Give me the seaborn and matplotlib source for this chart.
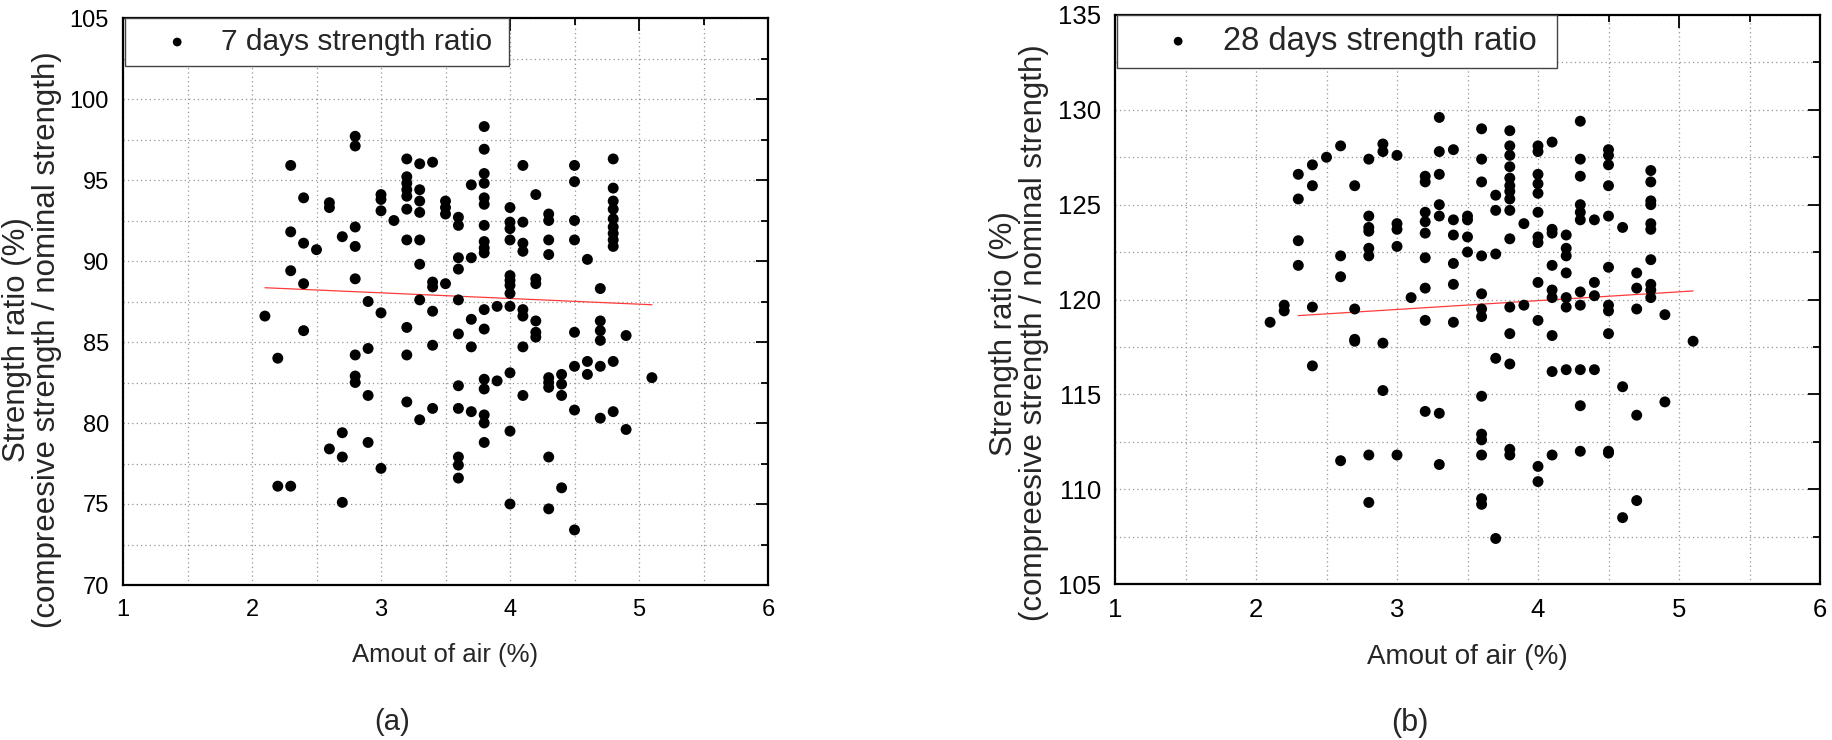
import matplotlib
matplotlib.use('Agg')
import matplotlib.pyplot as plt
from matplotlib.ticker import MultipleLocator
import seaborn as sns
import pandas as pd

# 7 days: amount of air (%) and strength ratio (%), one entry per point
air_7 = [
    2.1,
    2.2, 2.2,
    2.3, 2.3, 2.3, 2.3,
    2.4, 2.4, 2.4, 2.4,
    2.5,
    2.6, 2.6, 2.6,
    2.7, 2.7, 2.7, 2.7,
    2.8, 2.8, 2.8, 2.8, 2.8, 2.8, 2.8, 2.8,
    2.9, 2.9, 2.9, 2.9,
    3.0, 3.0, 3.0, 3.0, 3.0,
    3.1,
    3.2, 3.2, 3.2, 3.2, 3.2, 3.2, 3.2, 3.2, 3.2, 3.2,
    3.3, 3.3, 3.3, 3.3, 3.3, 3.3, 3.3, 3.3,
    3.4, 3.4, 3.4, 3.4, 3.4, 3.4,
    3.5, 3.5, 3.5, 3.5,
    3.6, 3.6, 3.6, 3.6, 3.6, 3.6, 3.6, 3.6, 3.6, 3.6, 3.6,
    3.7, 3.7, 3.7, 3.7, 3.7,
    3.8, 3.8, 3.8, 3.8, 3.8, 3.8, 3.8, 3.8, 3.8, 3.8, 3.8, 3.8, 3.8, 3.8, 3.8, 3.8, 3.8,
    3.9, 3.9,
    4.0, 4.0, 4.0, 4.0, 4.0, 4.0, 4.0, 4.0, 4.0, 4.0, 4.0, 4.0,
    4.1, 4.1, 4.1, 4.1, 4.1, 4.1, 4.1, 4.1,
    4.2, 4.2, 4.2, 4.2, 4.2, 4.2,
    4.3, 4.3, 4.3, 4.3, 4.3, 4.3, 4.3, 4.3, 4.3,
    4.4, 4.4, 4.4, 4.4,
    4.5, 4.5, 4.5, 4.5, 4.5, 4.5, 4.5, 4.5,
    4.6, 4.6, 4.6,
    4.7, 4.7, 4.7, 4.7, 4.7, 4.7,
    4.8, 4.8, 4.8, 4.8, 4.8, 4.8, 4.8, 4.8, 4.8, 4.8, 4.8,
    4.9, 4.9,
    5.1,
]
ratio_7 = [
    86.6,
    84.0, 76.1,
    95.9, 91.8, 89.4, 76.1,
    93.9, 91.1, 88.6, 85.7,
    90.7,
    93.6, 93.3, 78.4,
    91.5, 79.4, 77.9, 75.1,
    97.7, 97.1, 92.1, 90.9, 88.9, 84.2, 82.9, 82.5,
    87.5, 84.6, 81.7, 78.8,
    94.1, 93.8, 93.1, 86.8, 77.2,
    92.5,
    96.3, 95.2, 94.8, 94.4, 94.0, 93.2, 91.3, 85.9, 84.2, 81.3,
    96.0, 94.4, 93.7, 93.0, 91.3, 89.8, 87.6, 80.2,
    96.1, 88.7, 88.4, 86.9, 84.8, 80.9,
    93.7, 93.3, 92.9, 88.6,
    92.7, 92.2, 90.2, 89.5, 87.6, 85.5, 82.3, 80.9, 77.9, 77.4, 76.6,
    94.7, 90.2, 86.4, 84.7, 80.7,
    98.3, 96.9, 95.4, 94.8, 93.9, 93.5, 92.2, 91.2, 90.8, 90.5, 87.0, 85.8, 82.7, 82.1, 80.5, 80.0, 78.8,
    87.2, 82.6,
    93.3, 92.4, 92.0, 91.3, 89.1, 88.8, 88.5, 88.0, 87.2, 83.1, 79.5, 75.0,
    95.9, 92.4, 91.1, 90.6, 87.0, 86.6, 84.7, 81.7,
    94.1, 88.9, 88.6, 86.3, 85.6, 85.3,
    92.9, 92.5, 91.3, 90.4, 82.8, 82.5, 82.2, 77.9, 74.7,
    83.0, 82.4, 81.7, 76.0,
    95.9, 94.9, 92.5, 91.3, 85.6, 83.5, 80.8, 73.4,
    90.1, 83.8, 83.0,
    88.3, 86.3, 85.7, 85.1, 83.5, 80.3,
    96.3, 94.5, 93.7, 93.2, 92.6, 92.1, 91.7, 91.3, 90.9, 83.8, 80.7,
    85.4, 79.6,
    82.8,
]

# 28 days
air_28 = [
    2.1,
    2.2, 2.2,
    2.3, 2.3, 2.3, 2.3,
    2.4, 2.4, 2.4, 2.4,
    2.5,
    2.6, 2.6, 2.6, 2.6,
    2.7, 2.7, 2.7, 2.7,
    2.8, 2.8, 2.8, 2.8, 2.8, 2.8, 2.8, 2.8,
    2.9, 2.9, 2.9, 2.9,
    3.0, 3.0, 3.0, 3.0, 3.0,
    3.1,
    3.2, 3.2, 3.2, 3.2, 3.2, 3.2, 3.2, 3.2, 3.2,
    3.3, 3.3, 3.3, 3.3, 3.3, 3.3, 3.3,
    3.4, 3.4, 3.4, 3.4, 3.4, 3.4,
    3.5, 3.5, 3.5, 3.5,
    3.6, 3.6, 3.6, 3.6, 3.6, 3.6, 3.6, 3.6, 3.6, 3.6, 3.6, 3.6, 3.6,
    3.7, 3.7, 3.7, 3.7, 3.7,
    3.8, 3.8, 3.8, 3.8, 3.8, 3.8, 3.8, 3.8, 3.8, 3.8, 3.8, 3.8, 3.8, 3.8, 3.8,
    3.9, 3.9,
    4.0, 4.0, 4.0, 4.0, 4.0, 4.0, 4.0, 4.0, 4.0, 4.0, 4.0, 4.0,
    4.1, 4.1, 4.1, 4.1, 4.1, 4.1, 4.1, 4.1, 4.1,
    4.2, 4.2, 4.2, 4.2, 4.2, 4.2, 4.2,
    4.3, 4.3, 4.3, 4.3, 4.3, 4.3, 4.3, 4.3, 4.3, 4.3, 4.3,
    4.4, 4.4, 4.4, 4.4,
    4.5, 4.5, 4.5, 4.5, 4.5, 4.5, 4.5, 4.5, 4.5, 4.5, 4.5,
    4.6, 4.6, 4.6,
    4.7, 4.7, 4.7, 4.7, 4.7,
    4.8, 4.8, 4.8, 4.8, 4.8, 4.8, 4.8, 4.8, 4.8, 4.8,
    4.9, 4.9,
    5.1,
]
ratio_28 = [
    118.8,
    119.7, 119.4,
    126.6, 125.3, 123.1, 121.8,
    127.1, 126.0, 119.6, 116.5,
    127.5,
    128.1, 122.3, 121.2, 111.5,
    126.0, 119.5, 117.9, 117.8,
    127.4, 124.4, 123.8, 123.6, 122.7, 122.3, 111.8, 109.3,
    128.2, 127.8, 117.7, 115.2,
    127.6, 124.0, 123.7, 122.8, 111.8,
    120.1,
    126.5, 126.2, 124.6, 124.1, 123.5, 122.2, 120.6, 118.9, 114.1,
    129.6, 127.8, 126.6, 125.0, 124.4, 114.0, 111.3,
    127.9, 124.2, 123.4, 121.9, 120.8, 118.8,
    124.4, 124.2, 123.3, 122.5,
    129.0, 127.4, 126.2, 122.3, 120.3, 119.5, 119.1, 114.9, 112.9, 112.6, 111.8, 109.5, 109.2,
    125.5, 124.7, 122.4, 116.9, 107.4,
    128.9, 128.1, 127.6, 127.0, 126.4, 126.0, 125.7, 125.3, 124.7, 123.2, 119.6, 118.2, 116.6, 112.1, 111.8,
    124.0, 119.7,
    128.1, 127.8, 126.6, 126.1, 125.6, 124.6, 123.3, 123.0, 120.9, 118.9, 111.2, 110.4,
    128.3, 123.7, 123.5, 121.8, 120.5, 120.1, 118.1, 116.2, 111.8,
    123.4, 122.7, 122.3, 121.4, 120.1, 119.6, 116.3,
    129.4, 127.4, 126.5, 125.0, 124.6, 124.2, 120.4, 119.7, 116.3, 114.4, 112.0,
    124.2, 120.9, 120.2, 116.3,
    127.9, 127.6, 127.1, 126.0, 124.4, 121.7, 119.7, 119.4, 118.2, 112.0, 111.9,
    123.8, 115.4, 108.5,
    121.4, 120.6, 119.5, 113.9, 109.4,
    126.8, 126.2, 125.2, 125.0, 124.0, 123.7, 122.1, 120.8, 120.5, 120.1,
    119.2, 114.6,
    117.8,
]

# fitted trend lines as drawn in the figure (end points)
fit_air_7 = [2.1, 5.1]
fit_ratio_7 = [88.35, 87.3]
fit_air_28 = [2.3, 5.1]
fit_ratio_28 = [119.15, 120.45]

legend_7 = '7 days strength ratio'
legend_28 = '28 days strength ratio'
xlabel = 'Amout of air (%)'
ylabel = 'Strength ratio (%)\n(compreesive strength / nominal strength)'

sns.set_theme(style='white')
plt.rcParams['font.family'] = ['Liberation Sans', 'DejaVu Sans']

W, H = 1832, 740
fig = plt.figure(figsize=(W / 100, H / 100), dpi=100)
ax1 = fig.add_axes([123 / W, 1 - 585 / H, (768 - 123) / W, (585 - 18) / H])
ax2 = fig.add_axes([1115 / W, 1 - 584 / H, (1820 - 1115) / W, (584 - 15) / H])


def draw_panel(ax, air, ratio, fit_x, fit_y, label, ylim, legend_w, ylab_xy,
               tick_fs, xlab_fs, leg_fs, leg_hl, leg_tp):
    df = pd.DataFrame({'air': air, 'ratio': ratio})
    sns.scatterplot(data=df, x='air', y='ratio', ax=ax, color='black', s=62,
                    edgecolor='none', label=label, zorder=3)
    sns.lineplot(x=fit_x, y=fit_y, ax=ax, color='#ff3b3b', linewidth=0.9, zorder=2)

    ax.set_xlim(1, 6)
    ax.set_ylim(*ylim)
    ax.xaxis.set_major_locator(MultipleLocator(1))
    ax.xaxis.set_minor_locator(MultipleLocator(0.5))
    ax.yaxis.set_major_locator(MultipleLocator(5))
    ax.yaxis.set_minor_locator(MultipleLocator(2.5))
    ax.grid(which='both', linestyle=(0, (1, 2.5)), color='#959595', linewidth=0.9)
    ax.set_axisbelow(True)

    ax.tick_params(which='both', direction='in', top=True, right=True,
                   width=1.3, colors='black', labelsize=tick_fs)
    ax.tick_params(which='major', length=9, pad=10)
    ax.tick_params(which='minor', length=5)
    for sp in ax.spines.values():
        sp.set_color('black')
        sp.set_linewidth(1.6)

    ax.set_xlabel(xlabel, fontsize=xlab_fs, labelpad=16)
    ax.set_ylabel(ylabel, fontsize=22.5, linespacing=1.0)
    ax.yaxis.set_label_coords(*ylab_xy)

    leg = ax.legend(loc='upper left', bbox_to_anchor=(0.003, 1.0, legend_w, 0.0),
                    mode='expand', borderaxespad=0, fontsize=leg_fs, fancybox=False,
                    frameon=True, borderpad=0.33, handlelength=leg_hl,
                    handletextpad=leg_tp, markerscale=0.8)
    leg.get_frame().set_edgecolor('#444444')
    leg.get_frame().set_linewidth(1.0)
    leg.get_frame().set_alpha(1.0)


draw_panel(ax1, air_7, ratio_7, fit_air_7, fit_ratio_7, legend_7, (70, 105), 0.595,
           (-0.094, 0.432), 17, 18.5, 21.5, 2.84, 0.05)
draw_panel(ax2, air_28, ratio_28, fit_air_28, fit_ratio_28, legend_28, (105, 135), 0.624,
           (-0.093, 0.441), 18.5, 20, 23.5, 3.08, -0.16)

fig.text(392 / W, 1 - 722 / H, '(a)', ha='center', va='center', fontsize=21)
fig.text(1410 / W, 1 - 723 / H, '(b)', ha='center', va='center', fontsize=22)

plt.savefig('out.png', dpi=100)
plt.close()
